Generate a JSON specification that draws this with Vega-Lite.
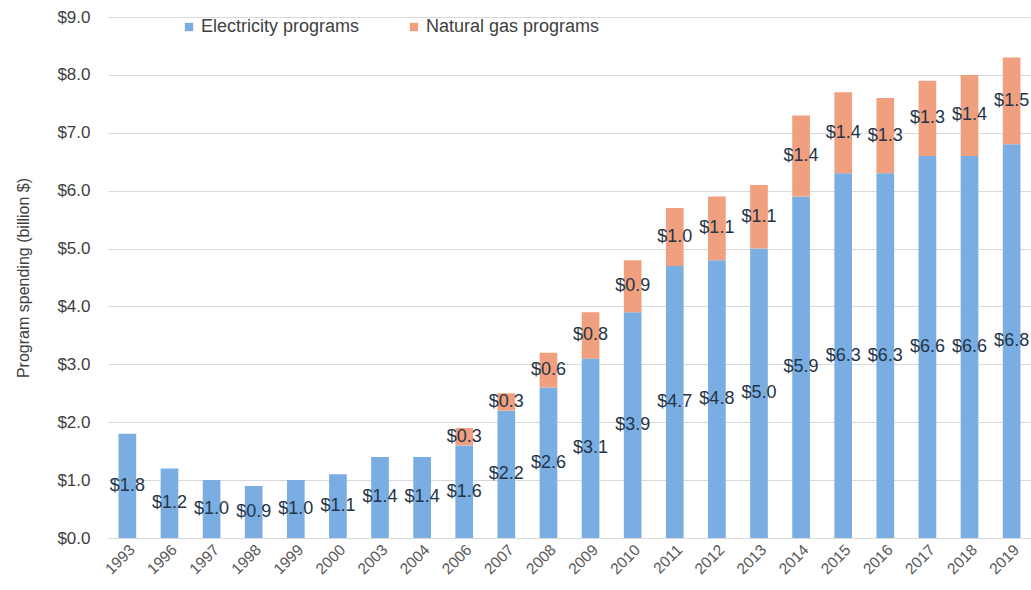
{
  "$schema": "https://vega.github.io/schema/vega-lite/v6.json",
  "width": 923,
  "height": 521,
  "autosize": {"type": "none"},
  "padding": {"left": 108, "top": 17, "right": 0, "bottom": 52},
  "background": "white",
  "config": {
    "view": {"stroke": null},
    "font": "Liberation Sans",
    "axisY": {
      "titleFontSize": 16,
      "titleFontWeight": "normal",
      "titleColor": "#404040",
      "titlePadding": 25,
      "labelFontSize": 17,
      "labelColor": "#404040",
      "labelPadding": 18,
      "labelOverlap": false,
      "ticks": false,
      "domain": false,
      "gridColor": "#d9d9d9",
      "gridWidth": 1
    }
  },
  "data": {
    "values": [
      {"year": "1993", "type": "Electricity programs", "amount": 1.8},
      {"year": "1996", "type": "Electricity programs", "amount": 1.2},
      {"year": "1997", "type": "Electricity programs", "amount": 1.0},
      {"year": "1998", "type": "Electricity programs", "amount": 0.9},
      {"year": "1999", "type": "Electricity programs", "amount": 1.0},
      {"year": "2000", "type": "Electricity programs", "amount": 1.1},
      {"year": "2003", "type": "Electricity programs", "amount": 1.4},
      {"year": "2004", "type": "Electricity programs", "amount": 1.4},
      {"year": "2006", "type": "Electricity programs", "amount": 1.6},
      {"year": "2007", "type": "Electricity programs", "amount": 2.2},
      {"year": "2008", "type": "Electricity programs", "amount": 2.6},
      {"year": "2009", "type": "Electricity programs", "amount": 3.1},
      {"year": "2010", "type": "Electricity programs", "amount": 3.9},
      {"year": "2011", "type": "Electricity programs", "amount": 4.7},
      {"year": "2012", "type": "Electricity programs", "amount": 4.8},
      {"year": "2013", "type": "Electricity programs", "amount": 5.0},
      {"year": "2014", "type": "Electricity programs", "amount": 5.9},
      {"year": "2015", "type": "Electricity programs", "amount": 6.3},
      {"year": "2016", "type": "Electricity programs", "amount": 6.3},
      {"year": "2017", "type": "Electricity programs", "amount": 6.6},
      {"year": "2018", "type": "Electricity programs", "amount": 6.6},
      {"year": "2019", "type": "Electricity programs", "amount": 6.8},
      {"year": "2006", "type": "Natural gas programs", "amount": 0.3},
      {"year": "2007", "type": "Natural gas programs", "amount": 0.3},
      {"year": "2008", "type": "Natural gas programs", "amount": 0.6},
      {"year": "2009", "type": "Natural gas programs", "amount": 0.8},
      {"year": "2010", "type": "Natural gas programs", "amount": 0.9},
      {"year": "2011", "type": "Natural gas programs", "amount": 1.0},
      {"year": "2012", "type": "Natural gas programs", "amount": 1.1},
      {"year": "2013", "type": "Natural gas programs", "amount": 1.1},
      {"year": "2014", "type": "Natural gas programs", "amount": 1.4},
      {"year": "2015", "type": "Natural gas programs", "amount": 1.4},
      {"year": "2016", "type": "Natural gas programs", "amount": 1.3},
      {"year": "2017", "type": "Natural gas programs", "amount": 1.3},
      {"year": "2018", "type": "Natural gas programs", "amount": 1.4},
      {"year": "2019", "type": "Natural gas programs", "amount": 1.5}
    ]
  },
  "encoding": {
    "x": {
      "field": "year",
      "type": "ordinal",
      "scale": {"paddingInner": 0.58, "paddingOuter": 0.25},
      "axis": {
        "title": null,
        "labelAngle": -45,
        "labelFontSize": 15.5,
        "labelColor": "#595959",
        "ticks": false,
        "domain": false,
        "labelPadding": 4
      }
    }
  },
  "layer": [
    {
      "mark": {"type": "bar"},
      "encoding": {
        "y": {
          "aggregate": "sum",
          "field": "amount",
          "type": "quantitative",
          "stack": "zero",
          "scale": {"domain": [0, 9], "nice": false},
          "axis": {
            "title": "Program spending (billion $)",
            "format": "$.1f",
            "values": [0, 1, 2, 3, 4, 5, 6, 7, 8, 9]
          }
        },
        "color": {
          "field": "type",
          "type": "nominal",
          "scale": {
            "domain": ["Electricity programs", "Natural gas programs"],
            "range": ["#7aaee3", "#f0a07f"]
          },
          "legend": {
            "title": null,
            "orient": "none",
            "direction": "horizontal",
            "legendX": 72,
            "legendY": 1,
            "symbolType": "square",
            "symbolSize": 70,
            "symbolOffset": 0,
            "labelFontSize": 18,
            "labelLimit": 400,
            "labelColor": "#404040",
            "labelOffset": 3,
            "columnPadding": 45
          }
        },
        "order": {"field": "type", "sort": "ascending"}
      }
    },
    {
      "transform": [
        {"stack": "amount", "groupby": ["year"], "sort": [{"field": "type", "order": "ascending"}], "as": ["lo", "hi"]},
        {"fold": ["lo", "hi"], "as": ["edge", "pos"]}
      ],
      "mark": {"type": "text", "fontSize": 18, "color": "#243447", "baseline": "middle", "align": "center"},
      "encoding": {
        "y": {
          "aggregate": "mean",
          "field": "pos",
          "type": "quantitative",
          "scale": {"domain": [0, 9], "nice": false},
          "axis": {
            "title": "Program spending (billion $)",
            "format": "$.1f",
            "values": [0, 1, 2, 3, 4, 5, 6, 7, 8, 9]
          }
        },
        "detail": {"field": "type"},
        "text": {"aggregate": "min", "field": "amount", "type": "quantitative", "format": "$.1f"}
      }
    }
  ]
}
